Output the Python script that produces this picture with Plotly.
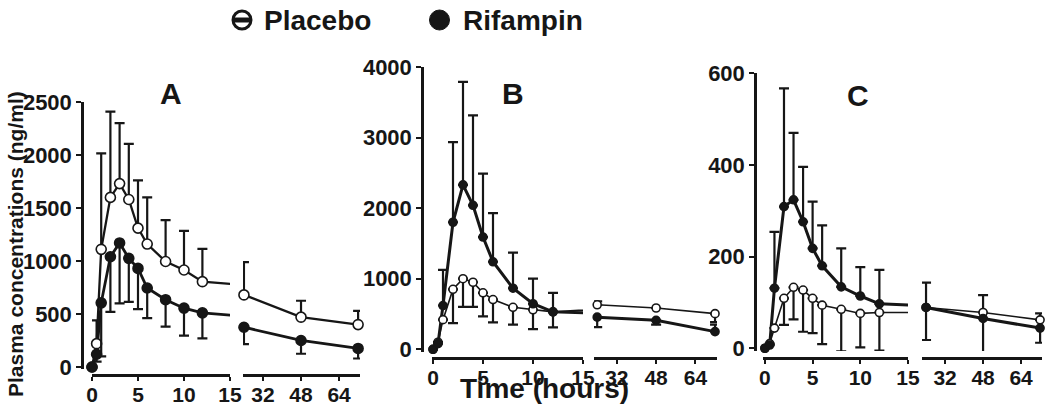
import plotly.graph_objects as go

# ---------------- data ----------------
times = [0, 0.5, 1, 2, 3, 4, 5, 6, 8, 10, 12, 24, 48, 72]

a_placebo = [0, 220, 1110, 1600, 1730, 1580, 1310, 1160, 995, 915, 805, 680, 470, 400]
a_placebo_up = [0, 220, 905, 810, 570, 525, 450, 440, 390, 370, 310, 310, 155, 130]
a_placebo_down = [0, 0, 0, 0, 0, 0, 0, 0, 0, 0, 0, 0, 0, 0]
a_rifampin = [0, 120, 605, 1040, 1170, 1025, 930, 745, 635, 555, 510, 375, 250, 175]
a_rifampin_up = [0, 0, 0, 0, 0, 0, 0, 0, 0, 0, 0, 0, 0, 0]
a_rifampin_down = [0, 70, 505, 520, 570, 410, 385, 285, 255, 260, 240, 160, 125, 95]

b_placebo = [0, 100, 420, 850, 1000, 950, 800, 705, 595, 560, 530, 630, 585, 505]
b_placebo_up = [0, 0, 0, 0, 0, 0, 0, 0, 0, 0, 0, 50, 0, 0]
b_placebo_down = [0, 0, 0, 480, 400, 350, 335, 325, 245, 275, 220, 0, 0, 120]
b_rifampin = [0, 80, 620, 1800, 2330, 2040, 1590, 1240, 865, 645, 530, 455, 410, 250]
b_rifampin_up = [0, 0, 505, 1135, 1460, 1275, 900, 690, 505, 355, 270, 0, 0, 100]
b_rifampin_down = [0, 0, 0, 0, 0, 0, 0, 0, 0, 0, 0, 140, 60, 0]

c_placebo = [0, 10, 44, 109, 133, 127, 109, 94, 85, 76, 78, 89, 78, 62]
c_placebo_up = [0, 0, 0, 0, 0, 0, 0, 0, 0, 0, 0, 54, 38, 14]
c_placebo_down = [0, 0, 0, 58, 70, 91, 76, 85, 92, 74, 83, 0, 0, 0]
c_rifampin = [0, 7, 131, 309, 324, 276, 218, 180, 134, 114, 97, 89, 65, 44]
c_rifampin_up = [0, 0, 123, 258, 146, 120, 102, 88, 84, 63, 74, 0, 0, 0]
c_rifampin_down = [0, 0, 0, 0, 0, 0, 0, 0, 0, 0, 0, 71, 76, 32]

panel_letters = ["A", "B", "C"]
left_ticks = [0, 5, 10, 15]
right_ticks = [32, 48, 64]
a_yticks = [0, 500, 1000, 1500, 2000, 2500]
b_yticks = [0, 1000, 2000, 3000, 4000]
c_yticks = [0, 200, 400, 600]
legend_names = ["Placebo", "Rifampin"]

# ---------------- layout geometry ----------------
W, H = 1050, 418
INK = "#161616"
FONT = "Liberation Sans"

def fx(px):
    return px / W

def fy(px):
    return 1 - px / H

panels = [
    dict(series=(a_placebo, a_placebo_up, a_placebo_down, a_rifampin, a_rifampin_up, a_rifampin_down),
         yticks=a_yticks, yrange=[-20, 2500], ydom=[fy(369.1), fy(102)], ypos=fx(82),
         xl_dom=[fx(92), fx(230)], xl_range=[0, 15],
         xr_dom=[fx(243), fx(360)], xr_range=[23.6, 72.8],
         xpos=fy(375), msize=10, plw=2.3, rlw=2.8, letter_xy=(171, 93)),
    dict(series=(b_placebo, b_placebo_up, b_placebo_down, b_rifampin, b_rifampin_up, b_rifampin_down),
         yticks=b_yticks, yrange=[-40, 4000], ydom=[fy(352.1), fy(67)], ypos=fx(422),
         xl_dom=[fx(432), fx(583)], xl_range=[-0.1, 15],
         xr_dom=[fx(594), fx(717)], xr_range=[22.7, 72.8],
         xpos=fy(358), msize=8, plw=1.6, rlw=3.0, letter_xy=(513, 94)),
    dict(series=(c_placebo, c_placebo_up, c_placebo_down, c_rifampin, c_rifampin_up, c_rifampin_down),
         yticks=c_yticks, yrange=[-6, 600], ydom=[fy(351), fy(73.3)], ypos=fx(755),
         xl_dom=[fx(763), fx(908)], xl_range=[-0.2, 15],
         xr_dom=[fx(922), fx(1042)], xr_range=[22.3, 72.8],
         xpos=fy(358), msize=8, plw=1.6, rlw=3.0, letter_xy=(858, 96)),
]

fig = go.Figure()
layout_axes = {}
annotations = []

axis_common = dict(showline=True, linewidth=2.5, linecolor=INK, ticks="outside",
                   ticklen=5, tickwidth=2, tickcolor=INK, showgrid=False, zeroline=False,
                   automargin=False,
                   tickfont=dict(family=FONT, size=21, color=INK, weight="bold"))

for i, p in enumerate(panels):
    yname = "y" if i == 0 else f"y{i+1}"
    ykey = "yaxis" if i == 0 else f"yaxis{i+1}"
    xl_idx = 2 * i + 1
    xr_idx = 2 * i + 2
    xl_name = "x" if xl_idx == 1 else f"x{xl_idx}"
    xr_name = f"x{xr_idx}"
    xl_key = "xaxis" if xl_idx == 1 else f"xaxis{xl_idx}"
    xr_key = f"xaxis{xr_idx}"

    layout_axes[ykey] = dict(axis_common, domain=p["ydom"], range=p["yrange"],
                             tickvals=p["yticks"], anchor="free", position=p["ypos"],
                             tickfont=dict(family=FONT, size=22, color=INK, weight="bold"))
    layout_axes[xl_key] = dict(axis_common, domain=p["xl_dom"], range=p["xl_range"],
                               tickvals=left_ticks, anchor="free", position=p["xpos"],
                               ticklen=4, ticklabelstandoff=-4)
    layout_axes[xr_key] = dict(axis_common, domain=p["xr_dom"], range=p["xr_range"],
                               tickvals=right_ticks, anchor="free", position=p["xpos"],
                               ticklen=4, ticklabelstandoff=-4)

    pv, pu, pd, rv, ru, rd = p["series"]
    for xname, seg in ((xl_name, "L"), (xr_name, "R")):
        keep = [k for k, t in enumerate(times) if (t <= 15 if seg == "L" else t >= 24)]
        # connecting lines (clipped at the axis break)
        fig.add_trace(go.Scatter(x=times, y=pv, mode="lines", xaxis=xname, yaxis=yname,
                                 line=dict(color=INK, width=p["plw"]), showlegend=False,
                                 hoverinfo="skip"))
        fig.add_trace(go.Scatter(x=times, y=rv, mode="lines", xaxis=xname, yaxis=yname,
                                 line=dict(color=INK, width=p["rlw"]), showlegend=False,
                                 hoverinfo="skip"))
        # markers with error bars
        for vals, up, dn, fill in ((pv, pu, pd, "white"), (rv, ru, rd, INK)):
            fig.add_trace(go.Scatter(
                x=[times[k] for k in keep], y=[vals[k] for k in keep],
                mode="markers", xaxis=xname, yaxis=yname, cliponaxis=False,
                marker=dict(symbol="circle", size=p["msize"], color=fill,
                            line=dict(color=INK, width=1.6)),
                error_y=dict(type="data", symmetric=False,
                             array=[up[k] for k in keep], arrayminus=[dn[k] for k in keep],
                             color=INK, thickness=2.2, width=5),
                showlegend=False))

    lx, ly = p["letter_xy"]
    annotations.append(dict(text=panel_letters[i], x=fx(lx), y=fy(ly), xref="paper", yref="paper",
                            showarrow=False, xanchor="center", yanchor="middle",
                            font=dict(family=FONT, size=30, color=INK, weight="bold")))

# axis titles
annotations.append(dict(text="Time (hours)", x=fx(544), y=fy(388), xref="paper", yref="paper",
                        showarrow=False, xanchor="center", yanchor="middle",
                        font=dict(family=FONT, size=28, color=INK, weight="bold")))
annotations.append(dict(text="Plasma concentrations (ng/ml)", x=fx(15), y=fy(244), xref="paper",
                        yref="paper", showarrow=False, textangle=-90, xanchor="center",
                        yanchor="middle",
                        font=dict(family=FONT, size=21, color=INK, weight="bold")))

# legend (text + symbols)
annotations.append(dict(text=legend_names[0], x=fx(262), y=fy(20), xref="paper", yref="paper",
                        showarrow=False, xanchor="left", yanchor="middle",
                        font=dict(family=FONT, size=28, color=INK, weight="bold")))
annotations.append(dict(text=legend_names[1], x=fx(461), y=fy(20), xref="paper", yref="paper",
                        showarrow=False, xanchor="left", yanchor="middle",
                        font=dict(family=FONT, size=28, color=INK, weight="bold")))

shapes = [
    dict(type="circle", xref="paper", yref="paper", x0=fx(233), x1=fx(251),
         y0=fy(29), y1=fy(11), line=dict(color=INK, width=3), fillcolor="white"),
    dict(type="rect", xref="paper", yref="paper", x0=fx(234), x1=fx(250),
         y0=fy(22.5), y1=fy(17.5), line=dict(width=0), fillcolor=INK),
    dict(type="circle", xref="paper", yref="paper", x0=fx(429.5), x1=fx(449.5),
         y0=fy(30), y1=fy(10), line=dict(color=INK, width=1), fillcolor=INK),
]

fig.update_layout(
    width=W, height=H, margin=dict(l=0, r=0, t=0, b=0),
    paper_bgcolor="white", plot_bgcolor="white",
    showlegend=False, annotations=annotations, shapes=shapes,
    **layout_axes,
)

fig.write_html("out.html", config={"displayModeBar": False},
               post_script="document.body.style.margin='0';document.body.style.padding='0';")
